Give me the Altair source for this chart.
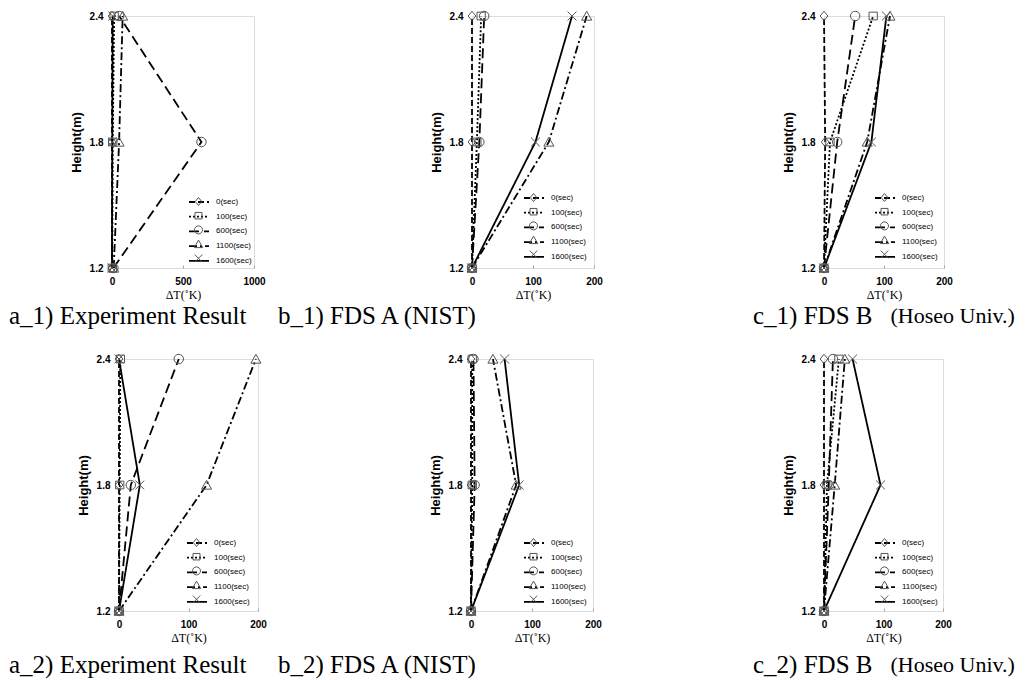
import altair as alt
import pandas as pd

heights = [1.2, 1.8, 2.4]
series = ["0(sec)", "100(sec)", "600(sec)", "1100(sec)", "1600(sec)"]

# ΔT values (K) at heights 1.2, 1.8, 2.4 m, per series, per panel
a1_vals = {"0(sec)": [0, 0, 0], "100(sec)": [2, 5, 15], "600(sec)": [10, 630, 50],
           "1100(sec)": [12, 50, 75], "1600(sec)": [0, 2, 5]}
b1_vals = {"0(sec)": [0, 0, 0], "100(sec)": [0, 8, 15], "600(sec)": [0, 12, 20],
           "1100(sec)": [0, 126, 188], "1600(sec)": [0, 104, 164]}
c1_vals = {"0(sec)": [0, 2, 0], "100(sec)": [0, 10, 82], "600(sec)": [0, 22, 52],
           "1100(sec)": [0, 72, 110], "1600(sec)": [0, 79, 104]}
a2_vals = {"0(sec)": [0, 0, 0], "100(sec)": [0, 1, 2], "600(sec)": [0, 17, 86],
           "1100(sec)": [0, 126, 197], "1600(sec)": [0, 30, 0]}
b2_vals = {"0(sec)": [0, 0, 0], "100(sec)": [0, 2, 2], "600(sec)": [0, 6, 4],
           "1100(sec)": [0, 74, 36], "1600(sec)": [0, 79, 55]}
c2_vals = {"0(sec)": [0, 0, 0], "100(sec)": [0, 5, 25], "600(sec)": [0, 8, 15],
           "1100(sec)": [0, 18, 35], "1600(sec)": [0, 95, 48]}

ticks_a1 = [0, 500, 1000]
ticks_other = [0, 100, 200]

captions = {
    "a1": "a_1) Experiment Result", "b1": "b_1) FDS A (NIST)", "c1": "c_1) FDS B",
    "a2": "a_2) Experiment Result", "b2": "b_2) FDS A (NIST)", "c2": "c_2) FDS B",
}
sub_caption = "(Hoseo Univ.)"

dashes = [[6, 3], [2, 2], [10, 5], [8, 3, 2, 3], [1, 0]]
shapes = [
    "M0,-0.8L0.65,0L0,0.8L-0.65,0Z",
    "M-0.7,-0.65L0.7,-0.65L0.7,0.65L-0.7,0.65Z",
    "M0.8,0A0.8,0.8,0,1,1,-0.8,0A0.8,0.8,0,1,1,0.8,0Z",
    "M0,-0.8L0.85,0.7L-0.85,0.7Z",
    "M-0.75,-0.75L0.75,0.75M-0.75,0.75L0.75,-0.75",
]

SERIF = "Liberation Serif"
SANS = "Liberation Sans"
FRAME = "#a6a6a6"
MARK = "#555555"


def common(lx, ly, pad):
    return dict(orient="none", legendX=lx, legendY=ly, title=None, symbolSize=100,
                labelFont=SANS, labelFontSize=8, labelColor="black", labelOffset=11,
                rowPadding=pad, padding=0, gridAlign="all")


def panel(vals, xmax, xticks, w, h, cap, dx, lx, ly, offset, sub=False):
    rows = []
    for s in series:
        for hgt, v in zip(heights, vals[s]):
            rows.append({"series": s, "marker": s, "height": hgt, "dT": v})
    df = pd.DataFrame(rows)
    xscale = alt.Scale(domain=[0, xmax], nice=False)
    x_main = alt.X("dT:Q", scale=xscale,
                   axis=alt.Axis(orient="bottom", values=xticks, format="d", title="ΔT(˚K)",
                                 titleFont=SERIF, titleFontSize=12, titleFontWeight="normal",
                                 titleColor="black", titlePadding=3, labelFont=SANS,
                                 labelFontSize=10, labelFontWeight="bold", labelColor="black",
                                 labelPadding=8, ticks=False, domain=False, grid=False,
                                 labelFlush=False))
    x_ticks = alt.X("dT:Q", scale=xscale,
                    axis=alt.Axis(orient="bottom", values=xticks, title=None, labels=False,
                                  ticks=True, tickSize=3, tickColor=FRAME, tickWidth=1,
                                  domain=False, grid=False, offset=-3))
    y = alt.Y("height:Q", scale=alt.Scale(domain=[1.2, 2.4], nice=False, zero=False),
              axis=alt.Axis(values=heights, format=".1f", title="Height(m)", titleFont=SANS,
                            titleFontSize=13, titleFontWeight="bold", titleColor="black",
                            titlePadding=6, labelFont=SANS, labelFontSize=10,
                            labelFontWeight="bold", labelColor="black", labelPadding=9,
                            ticks=False, domain=False, grid=False))
    lines = alt.Chart(df).mark_line(color="black", strokeWidth=1.8).encode(
        x=x_main, y=y, order=alt.Order("height:Q"),
        strokeDash=alt.StrokeDash(
            "series:N", scale=alt.Scale(domain=series, range=dashes),
            legend=alt.Legend(symbolType="M-2,0L2,0", symbolStrokeWidth=1.8,
                              symbolStrokeColor="black", **common(lx, ly, 4.7))))
    pts = alt.Chart(df).mark_point(filled=False, color=MARK, strokeWidth=1, size=140,
                                   opacity=1).encode(
        x=x_ticks, y=y,
        shape=alt.Shape("marker:N", sort=series, scale=alt.Scale(range=shapes),
                        legend=alt.Legend(symbolStrokeWidth=1, symbolStrokeColor=MARK,
                                          labelOpacity=0, **common(lx, ly, 1.2))))
    tp = dict(text=cap, orient="bottom", anchor="start", frame="group", dx=dx, offset=offset,
              font=SERIF, fontSize=25, fontWeight="normal", color="black")
    if sub:
        tp.update(subtitle="\u200b" + "\u00a0" * 25 + sub_caption, subtitleFont=SERIF,
                  subtitleFontSize=22, subtitleColor="black", subtitlePadding=-23)
    return alt.layer(lines, pts).resolve_axis(x="independent").properties(
        width=w, height=h, title=alt.TitleParams(**tp))


def spacer(w):
    return alt.Chart(pd.DataFrame({"s": [0]})).mark_point(opacity=0).encode(
        x=alt.value(0), y=alt.value(0)).properties(
        width=w, height=10, view=alt.ViewBackground(stroke="transparent"))


def indep(c):
    return c.resolve_scale(strokeDash="independent", shape="independent").resolve_legend(
        strokeDash="independent", shape="independent")


p_a1 = panel(a1_vals, 1000, ticks_a1, 142, 252, captions["a1"], -103, 81, 180, 4)
p_b1 = panel(b1_vals, 200, ticks_other, 122, 252, captions["b1"], -194, 56, 176, 4)
p_c1 = panel(c1_vals, 200, ticks_other, 120, 252, captions["c1"], -71, 55, 176, 4, sub=True)
p_a2 = panel(a2_vals, 200, ticks_other, 139, 252, captions["a2"], -110, 72, 178, 10)
p_b2 = panel(b2_vals, 200, ticks_other, 122, 252, captions["b2"], -193, 57, 178, 10)
p_c2 = panel(c2_vals, 200, ticks_other, 119, 252, captions["c2"], -71, 55, 178, 10, sub=True)

row1 = indep(alt.hconcat(p_a1, spacer(218), p_b1, spacer(230), p_c1, spacing=0, bounds="flush"))
row2 = indep(alt.hconcat(spacer(7), p_a2, spacer(213), p_b2, spacer(231), p_c2, spacing=0,
                         bounds="flush"))

chart = indep(alt.vconcat(row1, row2, spacing=343, bounds="flush")).properties(
    padding={"left": 0, "top": 0, "right": 0, "bottom": 0}
).configure_view(stroke=FRAME, strokeWidth=1).configure(background="white")

chart.save("out.html", embed_options={"renderer": "svg", "actions": False})
